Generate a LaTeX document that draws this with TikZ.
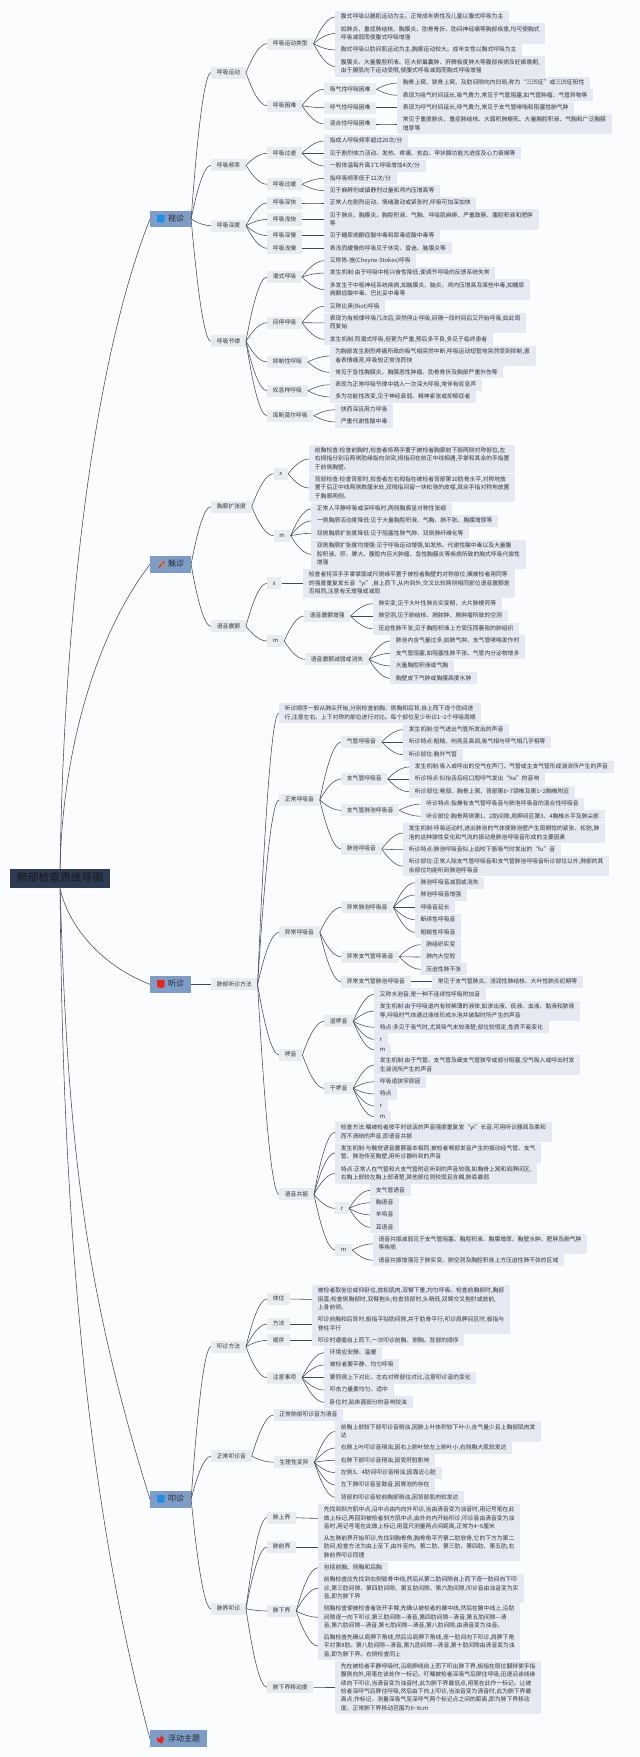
\documentclass[tikz,border=0pt]{standalone}
\usepackage{fontspec}
\setmainfont{Noto Sans CJK SC}
\usetikzlibrary{calc}
\definecolor{pagebg}{HTML}{FBFCFD}
\definecolor{leafbg}{HTML}{E6E9F1}
\definecolor{subbg}{HTML}{E9ECEF}
\definecolor{topicbg}{HTML}{7E9CC8}
\definecolor{rootbg}{HTML}{2E3B52}
\definecolor{inktext}{HTML}{2F3540}
\definecolor{linkcol}{HTML}{3F4858}
\definecolor{flagblue}{HTML}{1E8FE6}
\definecolor{flagred}{HTML}{E8261C}
\newcommand{\iconpad}{\hspace*{10.9pt}}
\newcommand{\rowstrut}{\rule[-1.2pt]{0pt}{6.3pt}}
\tikzset{
  rootbox/.style={anchor=west, fill=rootbg, text=black!90, inner xsep=6.7pt, inner ysep=4.2pt,
    text height=8.6pt, text depth=2.2pt, font=\fontsize{10.8}{12}\selectfont},
  topic/.style={anchor=west, fill=topicbg, text=black!85, inner xsep=6.9pt, inner ysep=4.3pt,
    text height=6.4pt, text depth=1.6pt, font=\fontsize{8}{10}\selectfont},
  sub/.style={anchor=west, fill=subbg, text=inktext, inner xsep=5.7pt, inner ysep=3pt,
    execute at begin node=\rowstrut, font=\fontsize{5.8}{8.3}\selectfont},
  leaf/.style={anchor=west, fill=leafbg, text=inktext, align=left, inner xsep=5.7pt, inner ysep=3pt,
    execute at begin node=\rowstrut, execute at end node=\rowstrut, font=\fontsize{5.8}{8.3}\selectfont},
  link/.style={draw=linkcol, line width=0.55pt}
}
\begin{document}
\begin{tikzpicture}[>=stealth, x=1pt, y=-1pt]
  \useasboundingbox (0, 0) rectangle (640, 1757);
  \fill[pagebg] (0, 0) rectangle (640, 1757);

  \node[rootbox] (root) at (10, 878.7) {肺部检查思维导图};
  \node[topic] (shi) at (150, 219) {\iconpad 视诊};
  \node[topic] (chu) at (150, 564.3) {\iconpad 触诊};
  \node[topic] (ting) at (150, 984.3) {\iconpad 听诊};
  \node[topic] (kou) at (150, 1499.3) {\iconpad 叩诊};
  \node[topic] (fu) at (150, 1738.7) {\iconpad 浮动主题};

  \fill[flagblue] ($(shi.west)+(7.2, -4.2)$) -- ++(7.4, 0) -- ++(0, 7) -- ++(-3.7, 0.9) -- ++(-3.7, -0.9) -- cycle;
  \draw[flagred, line width=1pt] ($(chu.west)+(8.5, 3.5)$) -- ++(6, -6.5);
  \draw[orange!70!brown, line width=1pt] ($(chu.west)+(10, -3)$) -- ++(5.5, 7);
  \fill[flagred] ($(ting.west)+(7.2, -4.2)$) -- ++(7.4, 0) -- ++(0, 7) -- ++(-3.7, 0.9) -- ++(-3.7, -0.9) -- cycle;
  \fill[flagblue] ($(kou.west)+(7.2, -4.2)$) -- ++(7.4, 0) -- ++(0, 7) -- ++(-3.7, 0.9) -- ++(-3.7, -0.9) -- cycle;
  \fill[flagred] ($(fu.west)+(10.8, 4.4)$) .. controls +(-4.6, 0) and +(-4.6, -4) .. ++(-1.6, -4.4)
    .. controls +(1, 0.6) and +(1, 0.6) .. ++(1.4, -4.4) .. controls +(1, 2) and +(3.2, 1.6) .. ++(3, 5)
    .. controls +(0, 2) and +(-1, 3.8) .. ++(-2.8, 3.8) -- cycle;

  % 视诊
  \node[sub] (sa) at (211, 72.7) {呼吸运动};
  \node[sub] (saa) at (267, 43.7) {呼吸运动类型};
  \node[leaf] (saa1) at (335, 17) {腹式呼吸以膈肌运动为主。正常成年男性及儿童以腹式呼吸为主};
  \node[leaf] (saa2) at (335, 33.5) {如肺炎、重症肺结核、胸膜炎、肋骨骨折、肋间神经痛等胸部疾患,均可使胸式\\呼吸减弱而使腹式呼吸增强};
  \node[leaf] (saa3) at (335, 50) {胸式呼吸以肋间肌运动为主,胸廓运动较大。成年女性以胸式呼吸为主};
  \node[leaf] (saa4) at (335, 66.5) {腹膜炎、大量腹腔积液、巨大卵巢囊肿、肝脾极度肿大等腹部疾病及妊娠晚期,\\由于膈肌向下运动受限,使腹式呼吸减弱而胸式呼吸增强};
  \node[sub] (sab) at (267, 105.7) {呼吸困难};
  \node[sub] (saba) at (324, 89.3) {吸气性呼吸困难};
  \node[leaf] (saba1) at (397, 83) {胸骨上窝、锁骨上窝、及肋间隙向内凹陷,称为“三凹征”或三凹征阳性};
  \node[leaf] (saba2) at (397, 95.3) {表现为吸气时间延长,吸气费力,常见于气管阻塞,如气管肿瘤、气管异物等};
  \node[sub] (sabb) at (324, 107.7) {呼气性呼吸困难};
  \node[leaf] (sabb1) at (397, 107.7) {表现为呼气时间延长,呼气费力,常见于支气管哮喘和阻塞性肺气肿};
  \node[sub] (sabc) at (324, 124) {混合性呼吸困难};
  \node[leaf] (sabc1) at (397, 124) {常见于重度肺炎、重症肺结核、大面积肺梗死、大量胸腔积液、气胸和广泛胸膜\\增厚等};

  \node[sub] (sb) at (211, 165.3) {呼吸频率};
  \node[sub] (sba) at (267, 153.3) {呼吸过速};
  \node[leaf] (sba1) at (324, 141) {指成人呼吸频率超过20次/分};
  \node[leaf] (sba2) at (324, 153.3) {见于剧烈体力活动、发热、疼痛、贫血、甲状腺功能亢进症及心力衰竭等};
  \node[leaf] (sba3) at (324, 166) {一般体温每升高1℃呼吸增加4次/分};
  \node[sub] (sbb) at (267, 184.3) {呼吸过缓};
  \node[leaf] (sbb1) at (324, 178.3) {指呼吸频率低于12次/分};
  \node[leaf] (sbb2) at (324, 190.7) {见于麻醉剂或镇静剂过量和颅内压增高等};

  \node[sub] (sc) at (211, 225.7) {呼吸深度};
  \node[sub] (sca) at (267, 203) {呼吸深快};
  \node[leaf] (sca1) at (324, 203) {正常人在剧烈运动、情绪激动或紧张时,呼吸可加深加快};
  \node[sub] (scb) at (267, 219.4) {呼吸浅快};
  \node[leaf] (scb1) at (324, 219.4) {见于肺炎、胸膜炎、胸腔积液、气胸、呼吸肌麻痹、严重鼓肠、腹腔积液和肥胖\\等};
  \node[sub] (scc) at (267, 235.7) {呼吸深慢};
  \node[leaf] (scc1) at (324, 235.7) {见于糖尿病酮症酸中毒和尿毒症酸中毒等};
  \node[sub] (scd) at (267, 248.3) {呼吸浅慢};
  \node[leaf] (scd1) at (324, 248.3) {表浅而缓慢的呼吸见于休克、昏迷、脑膜炎等};

  \node[sub] (sd) at (211, 341.3) {呼吸节律};
  \node[sub] (sda) at (267, 277) {潮式呼吸};
  \node[leaf] (sda1) at (324, 260.7) {又称陈-施(Cheyne-Stokes)呼吸};
  \node[leaf] (sda2) at (324, 273) {发生机制:由于呼吸中枢兴奋性降低,使调节呼吸的反馈系统失常};
  \node[leaf] (sda3) at (324, 289.5) {多发生于中枢神经系统疾病,如脑膜炎、脑炎、颅内压增高及某些中毒,如糖尿\\病酮症酸中毒、巴比妥中毒等};
  \node[sub] (sdb) at (267, 322.7) {间停呼吸};
  \node[leaf] (sdb1) at (324, 306.3) {又称比奥(Biot)呼吸};
  \node[leaf] (sdb2) at (324, 322.8) {表现为有规律呼吸几次后,突然停止呼吸,间隔一段时间后又开始呼吸,如此周\\而复始};
  \node[leaf] (sdb3) at (324, 339.3) {发生机制:同潮式呼吸,但更为严重,预后多不良,多见于临终患者};
  \node[sub] (sdc) at (267, 362) {抑制性呼吸};
  \node[leaf] (sdc1) at (329.4, 356) {为胸部发生剧烈疼痛所致的吸气相突然中断,呼吸运动短暂地突然受到抑制,患\\者表情痛苦,呼吸较正常浅而快};
  \node[leaf] (sdc2) at (329.4, 372.3) {常见于急性胸膜炎、胸膜恶性肿瘤、肋骨骨折及胸部严重外伤等};
  \node[sub] (sdd) at (267, 390.7) {叹息样呼吸};
  \node[leaf] (sdd1) at (329.4, 384.7) {表现为正常呼吸节律中插入一次深大呼吸,常伴有叹息声};
  \node[leaf] (sdd2) at (329.4, 397) {多为功能性改变,见于神经衰弱、精神紧张或抑郁症者};
  \node[sub] (sde) at (267, 415.7) {库斯莫尔呼吸};
  \node[leaf] (sde1) at (335, 409.7) {快而深且用力呼吸};
  \node[leaf] (sde2) at (335, 422) {严重代谢性酸中毒};

  % 触诊
  \node[sub] (ca) at (211, 506.7) {胸廓扩张度};
  \node[sub] (caa) at (273.5, 473.7) {x};
  \node[leaf] (caa1) at (309, 459) {前胸检查:检查前胸时,检查者将两手置于被检者胸廓前下部两侧对称部位,左\\右拇指分别沿两侧肋缘指向剑突,拇指间在前正中线相遇,手掌和其余的手指置\\于前侧胸壁。};
  \node[leaf] (caa2) at (309, 488) {背部检查:检查背部时,检查者左右拇指在被检者背部第10肋骨水平,对称地放\\置于后正中线两侧数厘米处,双拇指间留一块松弛的皮褶,其余手指对称地放置\\于胸廓两侧。};
  \node[sub] (cab) at (273.5, 535.7) {m};
  \node[leaf] (cab1) at (311, 509) {正常人平静呼吸或深呼吸时,两侧胸廓呈对称性张缩};
  \node[leaf] (cab2) at (311, 521) {一侧胸廓活动度降低:见于大量胸腔积液、气胸、肺不张、胸膜增厚等};
  \node[leaf] (cab3) at (311, 533.3) {双侧胸廓扩张度降低:见于阻塞性肺气肿、双侧肺纤维化等};
  \node[leaf] (cab4) at (311, 554.3) {双侧胸廓扩张度均增强:见于呼吸运动增强,如发热、代谢性酸中毒以及大量腹\\腔积液、肝、脾大、腹腔内巨大肿瘤、急性胸膜炎等疾病所致的胸式呼吸代偿性\\增强};

  \node[sub] (cb) at (211, 626.3) {语音震颤};
  \node[sub] (cba) at (267, 583.3) {x};
  \node[leaf] (cba1) at (303, 583.3) {检查者将双手手掌掌面或尺侧缘平置于被检者胸壁的对称部位,嘱被检者用同等\\的强度重复发长音“yi”,自上而下,从内到外,交叉比较两侧相同部位语音震颤是\\否相同,注意有无增强或减弱};
  \node[sub] (cbb) at (267, 641) {m};
  \node[sub] (cbba) at (304, 616) {语音震颤增强};
  \node[leaf] (cbba1) at (372.6, 603.7) {肺实变,见于大叶性肺炎实变期、大片肺梗死等};
  \node[leaf] (cbba2) at (372.6, 616) {肺空洞,见于肺结核、肺脓肿、肺肿瘤所致的空洞};
  \node[leaf] (cbba3) at (372.6, 628.7) {压迫性肺不张,见于胸腔积液上方受压而萎陷的肺组织};
  \node[sub] (cbbb) at (305, 659.3) {语音震颤减弱或消失};
  \node[leaf] (cbbb1) at (390, 641) {肺泡内含气量过多,如肺气肿、支气管哮喘发作时};
  \node[leaf] (cbbb2) at (390, 653.3) {支气管阻塞,如阻塞性肺不张、气管内分泌物增多};
  \node[leaf] (cbbb3) at (390, 666) {大量胸腔积液或气胸};
  \node[leaf] (cbbb4) at (390, 678.3) {胸壁皮下气肿或胸膜高度水肿};

  % 听诊
  \node[sub] (ta) at (211, 984.3) {肺部听诊方法};
  \node[leaf] (taa) at (278.8, 713) {听诊顺序一般从肺尖开始,分别检查前胸、侧胸和后背,自上而下逐个肋间进\\行,注意左右、上下对称的部位进行对比。每个部位至少听诊1\textasciitilde 2个呼吸周期};
  \node[sub] (tab) at (279, 800) {正常呼吸音};
  \node[sub] (taba) at (341, 742) {气管呼吸音};
  \node[leaf] (taba1) at (403, 729.7) {发生机制:空气进出气管所发出的声音};
  \node[leaf] (taba2) at (403, 742) {听诊特点:粗糙、响亮且高调,吸气相与呼气相几乎相等};
  \node[leaf] (taba3) at (403, 754.7) {听诊部位:胸外气管};
  \node[sub] (tabb) at (341, 779) {支气管呼吸音};
  \node[leaf] (tabb1) at (409, 767) {发生机制:吸入或呼出的空气在声门、气管或主支气管形成湍流所产生的声音};
  \node[leaf] (tabb2) at (409, 779) {听诊特点:似抬舌后经口腔呼气发出“ha”的音响};
  \node[leaf] (tabb3) at (409, 791.7) {听诊部位:喉部、胸骨上窝、背部第6\textasciitilde 7颈椎及第1\textasciitilde 2胸椎附近};
  \node[sub] (tabc) at (341, 810.3) {支气管肺泡呼吸音};
  \node[leaf] (tabc1) at (420.4, 804) {听诊特点:指兼有支气管呼吸音与肺泡呼吸音的混合性呼吸音};
  \node[leaf] (tabc2) at (420.4, 816.3) {听诊部位:胸骨两侧第1、2肋间隙,肩胛间区第3、4胸椎水平及肺尖部};
  \node[sub] (tabd) at (341, 849) {肺泡呼吸音};
  \node[leaf] (tabd1) at (403, 833) {发生机制:呼吸运动时,进出肺泡的气体使肺泡壁产生周期性的紧张、松弛,肺\\泡的这种弹性变化和气流的振动是肺泡呼吸音形成的主要因素};
  \node[leaf] (tabd2) at (403, 849.7) {听诊特点:肺泡呼吸音似上齿咬下唇吸气时发出的“fu”音};
  \node[leaf] (tabd3) at (403, 866.2) {听诊部位:正常人除支气管呼吸音和支气管肺泡呼吸音听诊部位以外,肺部的其\\余部位均能听到肺泡呼吸音};

  \node[sub] (tac) at (279, 932.3) {异常呼吸音};
  \node[sub] (taca) at (341, 907.3) {异常肺泡呼吸音};
  \node[leaf] (taca1) at (414.7, 882.7) {肺泡呼吸音减弱或消失};
  \node[leaf] (taca2) at (414.7, 895) {肺泡呼吸音增强};
  \node[leaf] (taca3) at (414.7, 907.3) {呼吸音延长};
  \node[leaf] (taca4) at (414.7, 919.7) {断续性呼吸音};
  \node[leaf] (taca5) at (414.7, 932.3) {粗糙性呼吸音};
  \node[sub] (tacb) at (341, 956.7) {异常支气管呼吸音};
  \node[leaf] (tacb1) at (420.4, 944.7) {肺组织实变};
  \node[leaf] (tacb2) at (420.4, 957) {肺内大空腔};
  \node[leaf] (tacb3) at (420.4, 969.3) {压迫性肺不张};
  \node[sub] (tacc) at (341, 981.7) {异常支气管肺泡呼吸音};
  \node[leaf] (tacc1) at (432, 981.7) {常见于支气管肺炎、浸润性肺结核、大叶性肺炎初期等};

  \node[sub] (tad) at (279, 1054.7) {啰音};
  \node[sub] (tada) at (324, 1021.3) {湿啰音};
  \node[leaf] (tada1) at (374, 994.3) {又称水泡音,是一种不连续性呼吸附加音};
  \node[leaf] (tada2) at (374, 1011) {发生机制:由于呼吸道内有较稀薄的液体,如渗出液、痰液、血液、黏液和脓液\\等,呼吸时气体通过液体形成水泡并破裂时所产生的声音};
  \node[leaf] (tada3) at (374, 1027.3) {特点:多见于吸气时,尤其吸气末较清楚;部位较恒定,性质不易变化};
  \node[leaf] (tada4) at (374, 1039.3) {r};
  \node[leaf] (tada5) at (374, 1049.7) {m};
  \node[sub] (tadb) at (324, 1088.3) {干啰音};
  \node[leaf] (tadb1) at (374, 1065) {发生机制:由于气管、支气管及细支气管狭窄或部分阻塞,空气吸入或呼出时发\\生湍流所产生的声音};
  \node[leaf] (tadb2) at (374, 1081.7) {呼吸道狭窄原因};
  \node[leaf] (tadb3) at (374, 1094) {特点};
  \node[leaf] (tadb4) at (374, 1106) {r};
  \node[leaf] (tadb5) at (374, 1116.7) {m};

  \node[sub] (tae) at (279, 1194.3) {语音共振};
  \node[leaf] (tae1) at (335, 1132.2) {检查方法:嘱被检者按平时说话的声音强度重复发“yi”长音,可用听诊器闻及柔和\\而不清晰的声音,即语音共振};
  \node[leaf] (tae2) at (335, 1152.8) {发生机制:与触觉语音震颤基本相同,被检者喉部发音产生的振动经气管、支气\\管、肺泡传至胸壁,用听诊器听到的声音};
  \node[leaf] (tae3) at (335, 1173.5) {特点:正常人在气管和大支气管附近听到的声音较强,如胸骨上窝和肩胛间区,\\右胸上部较左胸上部清楚,其他部位则较弱且含糊,肺底最弱};
  \node[sub] (taea) at (335, 1208.3) {r};
  \node[leaf] (taea1) at (370, 1190.3) {支气管语音};
  \node[leaf] (taea2) at (370, 1202.7) {胸语音};
  \node[leaf] (taea3) at (370, 1215) {羊鸣音};
  \node[leaf] (taea4) at (370, 1227.3) {耳语音};
  \node[sub] (taeb) at (335, 1250) {m};
  \node[leaf] (taeb1) at (372.6, 1243.8) {语音共振减弱见于支气管阻塞、胸腔积液、胸膜增厚、胸壁水肿、肥胖及肺气肿\\等疾病};
  \node[leaf] (taeb2) at (372.6, 1260.3) {语音共振增强见于肺实变、肺空洞及胸腔积液上方压迫性肺不张的区域};

  % 叩诊
  \node[sub] (ka) at (211, 1346.7) {叩诊方法};
  \node[sub] (kaa) at (267, 1299) {体位};
  \node[leaf] (kaa1) at (312, 1299.3) {被检者取坐位或仰卧位,放松肌肉,双臂下垂,均匀呼吸。检查前胸部时,胸部\\挺直;检查侧胸部时,双臂抱头;检查背部时,头稍低,双臂交叉抱肘或放前,\\上身前倾。};
  \node[sub] (kab) at (267, 1324) {方法};
  \node[leaf] (kab1) at (312, 1324) {叩诊前胸和后背时,板指平贴肋间隙,并于肋骨平行;叩诊肩胛间区时,板指与\\脊柱平行};
  \node[sub] (kac) at (267, 1340.3) {顺序};
  \node[leaf] (kac1) at (312, 1340.3) {叩诊时遵循自上而下,一次叩诊前胸、侧胸、背部的顺序};
  \node[sub] (kad) at (267, 1377.7) {注意事项};
  \node[leaf] (kad1) at (324, 1352.7) {环境应安静、温暖};
  \node[leaf] (kad2) at (324, 1365) {被检者要平静、均匀呼吸};
  \node[leaf] (kad3) at (324, 1377.7) {要同侧上下对比、左右对称部位对比,注意叩诊音的变化};
  \node[leaf] (kad4) at (324, 1390) {叩击力量要均匀、适中};
  \node[leaf] (kad5) at (324, 1402.3) {卧位时,贴床面部分的音响较浊};

  \node[sub] (kb) at (211, 1456.3) {正常叩诊音};
  \node[leaf] (kba) at (273.5, 1415) {正常肺部叩诊音为清音};
  \node[sub] (kbb) at (273.5, 1462.3) {生理性变异};
  \node[leaf] (kbb1) at (335, 1431.5) {前胸上部较下部叩诊音稍浊,因肺上叶体积较下叶小,含气量少且上胸部肌肉发\\达};
  \node[leaf] (kbb2) at (335, 1448) {右肺上叶叩诊音稍浊,因右上肺叶较左上肺叶小,右侧胸大肌较发达};
  \node[leaf] (kbb3) at (335, 1460.3) {右肺下部叩诊音稍浊,因受肝脏影响};
  \node[leaf] (kbb4) at (335, 1472.7) {左侧3、4肋间叩诊音稍浊,因靠近心脏};
  \node[leaf] (kbb5) at (335, 1485) {左下肺叩诊音呈鼓音,因胃泡的存在};
  \node[leaf] (kbb6) at (335, 1497.3) {背部的叩诊音较前胸部稍浊,因背部肌肉较发达};

  \node[sub] (kc) at (211, 1608.7) {肺界叩诊};
  \node[sub] (kca) at (267, 1517.7) {肺上界};
  \node[leaf] (kca1) at (318, 1518.3) {先找到斜方肌中点,沿中点由内向外叩诊,当由清音变为浊音时,用记号笔在此\\做上标记,再回到被检者斜方肌中点,由外向内开始叩诊,叩诊音由清音变为浊\\音时,用记号笔在此做上标记,用直尺测量两点间距离,正常为4\textasciitilde 6厘米};
  \node[sub] (kcb) at (267, 1547) {肺前界};
  \node[leaf] (kcb1) at (318, 1547) {从左肺前界开始叩诊,先找到胸骨角,胸骨角平齐第二肋软骨,它的下方为第二\\肋间,检查方法为由上至下,由外至内。第二肋、第三肋、第四肋、第五肋,右\\肺前界叩诊同理};
  \node[sub] (kcc) at (267, 1611) {肺下界};
  \node[leaf] (kcc1) at (318, 1567.7) {包括前胸、侧胸和后胸};
  \node[leaf] (kcc2) at (318, 1588.3) {前胸检查应先找到右侧锁骨中线,然后从第二肋间隙自上而下逐一肋间向下叩\\诊,第三肋间隙、第四肋间隙、第五肋间隙、第六肋间隙,叩诊音由浊音变为实\\音,即为肺下界};
  \node[leaf] (kcc3) at (318, 1617.3) {侧胸检查使被检查者张开手臂,先确认被检者的腋中线,然后在腋中线上,沿肋\\间隙逐一向下叩诊,第三肋间隙—清音,第四肋间隙—清音,第五肋间隙—清\\音,第六肋间隙—清音,第七肋间隙—清音,第八肋间隙,由清音变为浊音。};
  \node[leaf] (kcc4) at (318, 1646) {后胸检查先确认肩胛下角线,然后沿肩胛下角线,逐一肋间向下叩诊,肩胛下角\\平对第8肋。第八肋间隙—清音,第九肋间隙—清音,第十肋间隙由清音变为浊\\音,即为肺下界。右侧检查同上};
  \node[sub] (kcd) at (267, 1687.3) {肺下界移动度};
  \node[leaf] (kcd1) at (335, 1687.5) {先在被检者平静呼吸时,沿肩胛线自上而下叩出肺下界,板指在原位翻转使手指\\腹侧向外,用笔在该处作一标记。叮嘱被检者深吸气后屏住呼吸,迅速沿该线继\\续向下叩诊,当清音变为浊音时,此为肺下界最低点,用笔在此作一标记。让被\\检者深呼气后屏住呼吸,然后由下向上叩诊,当浊音变为清音时,此为肺下界最\\高点,作标记。测量深吸气至深呼气两个标记点之间的距离,即为肺下界移动\\度。正常肺下界移动范围为6\textasciitilde 8cm};

  \draw[link] (root.north) .. controls (63, 650) and (88, 375) .. (shi.west);
  \draw[link] (root.north) .. controls (62, 760) and (92, 640) .. (chu.west);
  \draw[link] (root.south) .. controls (68, 925) and (100, 965) .. (ting.west);
  \draw[link] (root.south) .. controls (68, 1150) and (85, 1290) .. (kou.west);
  \draw[link] (root.south) .. controls (62, 1200) and (85, 1500) .. (fu.west);

  \foreach \up/\kids in {
    shi/{sa,sb,sc,sd}, sa/{saa,sab}, saa/{saa1,saa2,saa3,saa4}, sab/{saba,sabb,sabc},
    saba/{saba1,saba2}, sabb/{sabb1}, sabc/{sabc1},
    sb/{sba,sbb}, sba/{sba1,sba2,sba3}, sbb/{sbb1,sbb2},
    sc/{sca,scb,scc,scd}, sca/{sca1}, scb/{scb1}, scc/{scc1}, scd/{scd1},
    sd/{sda,sdb,sdc,sdd,sde}, sda/{sda1,sda2,sda3}, sdb/{sdb1,sdb2,sdb3},
    sdc/{sdc1,sdc2}, sdd/{sdd1,sdd2}, sde/{sde1,sde2},
    chu/{ca,cb}, ca/{caa,cab}, caa/{caa1,caa2}, cab/{cab1,cab2,cab3,cab4},
    cb/{cba,cbb}, cba/{cba1}, cbb/{cbba,cbbb}, cbba/{cbba1,cbba2,cbba3},
    cbbb/{cbbb1,cbbb2,cbbb3,cbbb4},
    ting/{ta}, ta/{taa,tab,tac,tad,tae}, tab/{taba,tabb,tabc,tabd},
    taba/{taba1,taba2,taba3}, tabb/{tabb1,tabb2,tabb3}, tabc/{tabc1,tabc2},
    tabd/{tabd1,tabd2,tabd3}, tac/{taca,tacb,tacc},
    taca/{taca1,taca2,taca3,taca4,taca5}, tacb/{tacb1,tacb2,tacb3}, tacc/{tacc1},
    tad/{tada,tadb}, tada/{tada1,tada2,tada3,tada4,tada5},
    tadb/{tadb1,tadb2,tadb3,tadb4,tadb5}, tae/{tae1,tae2,tae3,taea,taeb},
    taea/{taea1,taea2,taea3,taea4}, taeb/{taeb1,taeb2},
    kou/{ka,kb,kc}, ka/{kaa,kab,kac,kad}, kaa/{kaa1}, kab/{kab1}, kac/{kac1},
    kad/{kad1,kad2,kad3,kad4,kad5}, kb/{kba,kbb},
    kbb/{kbb1,kbb2,kbb3,kbb4,kbb5,kbb6}, kc/{kca,kcb,kcc,kcd}, kca/{kca1}, kcb/{kcb1},
    kcc/{kcc1,kcc2,kcc3,kcc4}, kcd/{kcd1}}
    \foreach \down in \kids
      \draw[link] let \p1=(\up.east), \p2=(\down.west), \n1={\x2-\x1}, \n2={\y2-\y1} in
        (\p1) .. controls ({\x1+0.3*\n1}, {\y1+0.55*\n2}) and ({\x1+0.65*\n1}, \y2) .. (\p2);
\end{tikzpicture}
\end{document}
